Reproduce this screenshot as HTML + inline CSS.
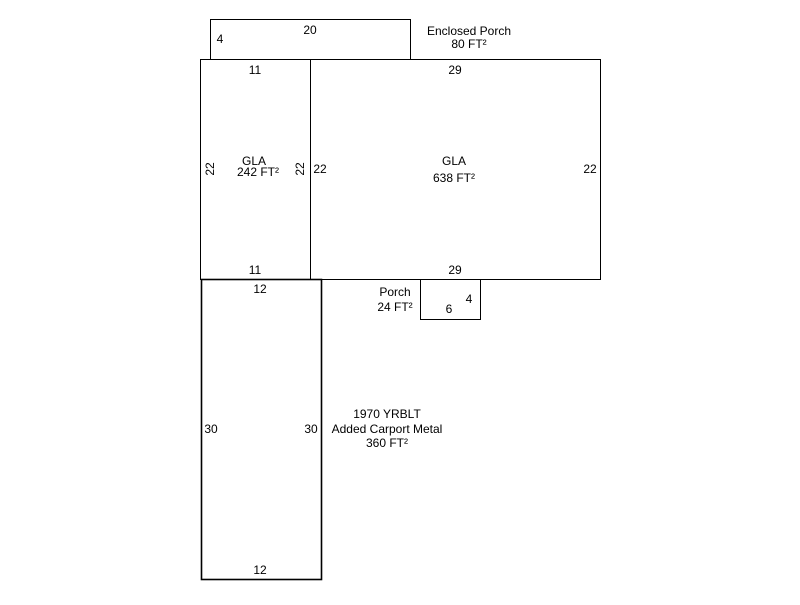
<!DOCTYPE html>
<html><head><style>body{margin:0;background:#fff}svg text{font-family:"Liberation Sans",Arial,sans-serif;font-size:12px;fill:#000}</style></head>
<body>
<svg width="800" height="600" xmlns="http://www.w3.org/2000/svg">
<g fill="none" stroke="#000" stroke-width="1">
<rect x="210.5" y="19.5" width="200" height="40"/>
<rect x="200.5" y="59.5" width="110" height="220"/>
<rect x="310.5" y="59.5" width="290" height="220"/>
<rect x="420.5" y="279.5" width="60" height="40"/>
<rect x="201.5" y="279.5" width="120" height="300" stroke-width="1.6"/>
</g>
<g text-anchor="middle">
<text x="310" y="34">20</text>
<text x="220" y="43">4</text>
<text x="469" y="35">Enclosed Porch</text>
<text x="469" y="48">80 FT²</text>
<text x="255" y="74">11</text>
<text x="455" y="74">29</text>
<text x="254" y="165">GLA</text>
<text x="258" y="176">242 FT²</text>
<text x="454" y="165">GLA</text>
<text x="454" y="182">638 FT²</text>
<text x="320" y="173">22</text>
<text x="590" y="173">22</text>
<text transform="translate(214,169) rotate(-90)">22</text>
<text transform="translate(304,169) rotate(-90)">22</text>
<text x="255" y="274">11</text>
<text x="455" y="274">29</text>
<text x="260" y="293">12</text>
<text x="395" y="296">Porch</text>
<text x="395" y="311">24 FT²</text>
<text x="469" y="303">4</text>
<text x="449" y="313">6</text>
<text x="211" y="433">30</text>
<text x="311" y="433">30</text>
<text x="387" y="418">1970 YRBLT</text>
<text x="387" y="433">Added Carport Metal</text>
<text x="387" y="447">360 FT²</text>
<text x="260" y="574">12</text>
</g>
</svg>
</body></html>
